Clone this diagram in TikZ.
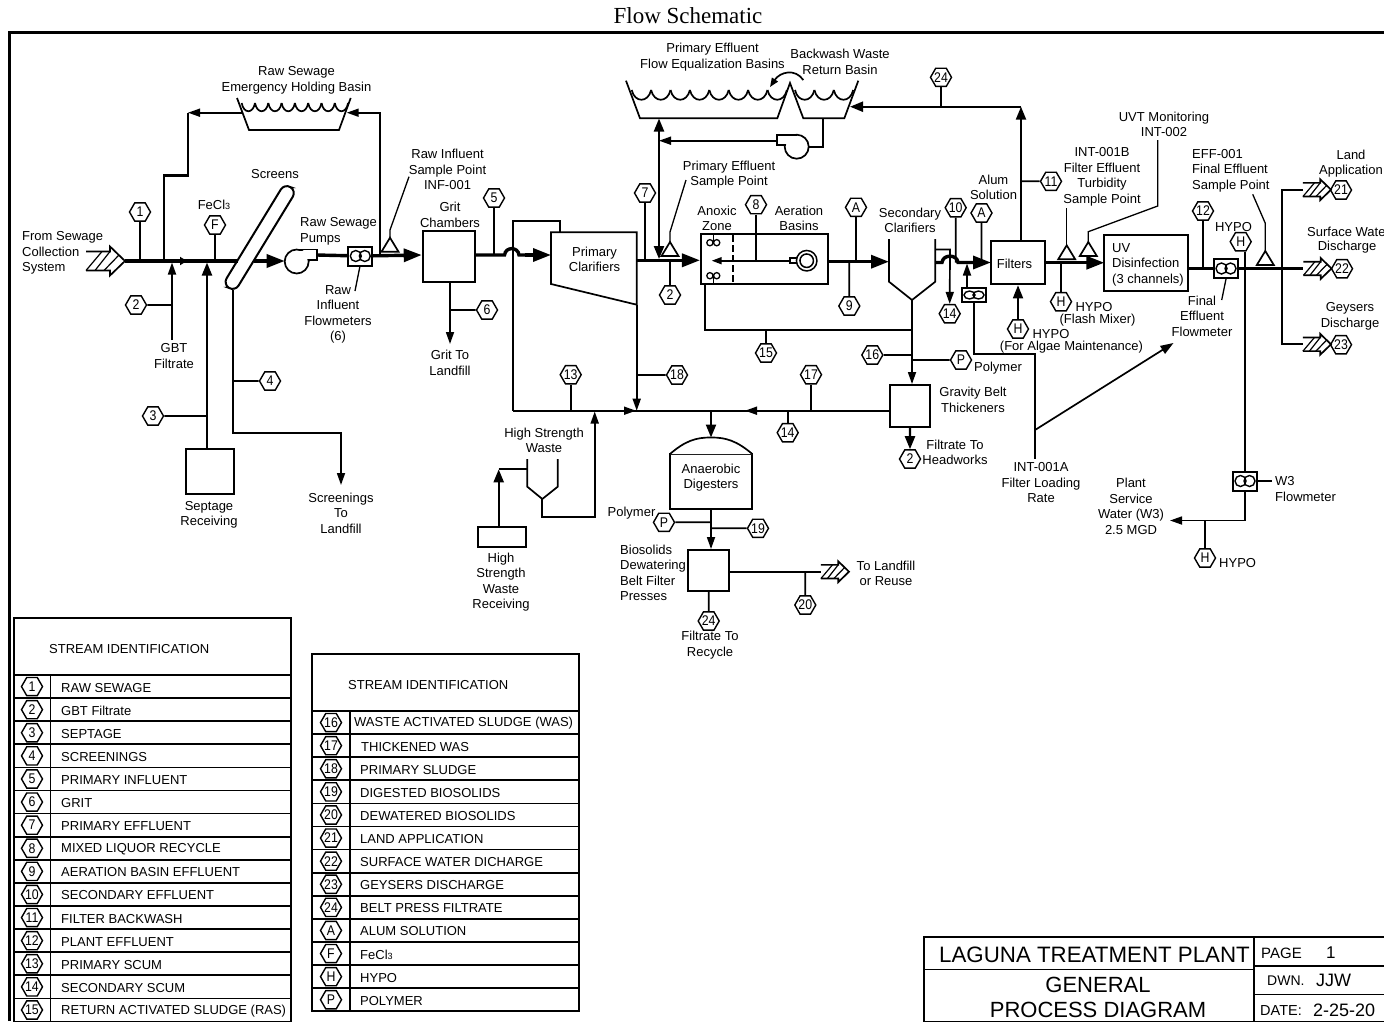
\documentclass[tikz,border=0pt]{standalone}
\usepackage{fontspec}
\setmainfont{Liberation Sans}
\newfontfamily\titlefont{Liberation Serif}
\newfontfamily\hexfont[FakeStretch=0.88]{Liberation Sans}
\usetikzlibrary{positioning,shapes,calc}
\usetikzlibrary{arrows.meta}
\newcommand{\fecl}{FeCl{\fontsize{9}{9}\selectfont 3}}

\begin{document}
\begin{tikzpicture}[x=1pt,y=-1pt]
	\tikzset{
		pipe/.style={line width=1.7pt},
		medpipe/.style={line width=2.2pt},
		mainpipe/.style={line width=3.4pt},
		pipearrow/.style={pipe,-{Triangle[length=12pt,width=8pt]}},
		medarrow/.style={medpipe,-{Triangle[length=13pt,width=10pt]}},
		bigarrow/.style={mainpipe,-{Triangle[length=18pt,width=13pt]}},
		hexmark/.style={draw,line width=1.4pt,fill=white,regular polygon,regular polygon sides=6,minimum size=21pt,inner sep=-2.5pt,font=\hexfont\fontsize{14}{14}\selectfont},
		lbl/.style={align=center,inner sep=0pt,yshift=-1pt,font=\fontsize{13}{15.5}\selectfont},
		lblw/.style={lbl,align=left,anchor=west},
		boxunit/.style={draw,line width=2pt,fill=white,inner sep=0pt},
		leader/.style={line width=1.3pt},
		outfall/.pic={
			\draw[pipe] (-39,-9.5) -- (-15,-9.5) -- (-15,-14.5) -- (0,0) -- (-15,14.5) -- (-15,9.5) -- (-39,9.5);
			\draw[line width=1.2pt] (-39,9.5) -- (-23,-9.5) (-30,9.5) -- (-15,-9.5) (-21,9.5) -- (-6,-6);
		},
		pumpshape/.pic={
			\draw[pipe,fill=white] (0,0) circle[radius=12];
			\fill[white] (0.5,-11) rectangle (19,-2.5);
			\draw[pipe] (0,-12) -- (20,-12) -- (20,-1.5) -- (11.9,-1.5);
		},
		meter/.pic={
			\draw[boxunit] (-12,-9.5) rectangle (12,9.5);
			\draw[line width=1.4pt] (-4.5,0) circle[radius=5.5] (4.5,0) circle[radius=5.5];
		},
		mixer/.pic={
			\draw[line width=1.3pt] (-3.4,0) circle[radius=3.1] (3.4,0) circle[radius=3.1];
			\draw[line width=1.3pt] (0,-8) -- (0,0);
		},
		sampler/.pic={
			\draw[pipe,fill=white] (-8.5,0) -- (8.5,0) -- (0,-14) -- cycle;
		},
	}
	\useasboundingbox (0,0) rectangle (1384,1021);

	\node[inner sep=0pt,font=\titlefont\fontsize{23}{23}\selectfont] (title) at (688,16) {Flow Schematic};
	\coordinate (frametl) at (9.5,32.5);
	\draw[line width=2.2pt] (9.5,1021) -- (frametl) -- (1384,32.5);

	\coordinate (inlet) at (125,261);
	\coordinate (midtip) at (187,261);
	\coordinate (scrin) at (237.5,261);
	\coordinate (scrout) at (254,261);
	\coordinate (pumpa) at (296.7,261.5);
	\coordinate (pumpain) at (284.7,261);
	\node[boxunit,rounded corners=7pt,minimum width=118pt,minimum height=14pt,rotate=58.6] (screens) at (259.7,237.5) {};
	\coordinate (scrfoot) at (232.7,290);

	\node[boxunit,minimum width=52pt,minimum height=51.6pt] (gritbox) at (448.7,256.5) {};
	\node[boxunit,minimum width=48pt,minimum height=45pt] (septage) at (210,471.5) {};
	\node[boxunit,minimum width=47.7pt,minimum height=20pt] (hsbox) at (502.2,536.7) {};
	\node[boxunit,minimum width=126.7pt,minimum height=49.7pt] (aeration) at (764.3,259.2) {};
	\node[boxunit,minimum width=54pt,minimum height=43.6pt] (filters) at (1018,262.5) {};
	\node[boxunit,minimum width=83.4pt,minimum height=55.7pt] (uvbox) at (1146,262.8) {};
	\node[boxunit,minimum width=40.3pt,minimum height=41.7pt] (gbt) at (910.2,405.9) {};
	\node[boxunit,minimum width=41.6pt,minimum height=40.7pt] (press) at (708.5,570.4) {};
	\node[boxunit,minimum width=82.3pt,minimum height=55pt] (digester) at (711.2,481.5) {};

	\node[hexmark] (h1) at (140,212) {1};
	\node[hexmark] (h2a) at (136,305) {2};
	\node[hexmark] (h3) at (153,416) {3};
	\node[hexmark] (h4) at (270,381) {4};
	\node[hexmark] (hF) at (215,225) {F};
	\node[hexmark] (h5) at (494,198) {5};
	\node[hexmark] (h6) at (487,310) {6};
	\node[hexmark] (h7) at (645,193) {7};
	\node[hexmark] (h2b) at (670,295) {2};
	\node[hexmark] (h8) at (756,204.7) {8};
	\node[hexmark] (hAa) at (856,207.3) {A};
	\node[hexmark] (h9) at (849.3,306) {9};
	\node[hexmark] (h10) at (955.7,207.7) {10};
	\node[hexmark] (hAb) at (981.5,213) {A};
	\node[hexmark] (h14a) at (949.7,313.7) {14};
	\node[hexmark] (h11) at (1051,181.3) {11};
	\node[hexmark] (h24a) at (941,77.3) {24};
	\node[hexmark] (hHa) at (1018,329) {H};
	\node[hexmark] (hHb) at (1061,301.7) {H};
	\node[hexmark] (h12) at (1203,211) {12};
	\node[hexmark] (hHc) at (1240.7,241.7) {H};
	\node[hexmark] (hHd) at (1205,558) {H};
	\node[hexmark] (h21) at (1341,190) {21};
	\node[hexmark] (h22) at (1342,268.7) {22};
	\node[hexmark] (h23) at (1341,344.7) {23};
	\node[hexmark] (h13) at (570.7,374.7) {13};
	\node[hexmark] (h18) at (677,375) {18};
	\node[hexmark] (h15) at (766,353) {15};
	\node[hexmark] (h16) at (872.3,355) {16};
	\node[hexmark] (hPa) at (961,360) {P};
	\node[hexmark] (h17) at (811,374.7) {17};
	\node[hexmark] (h14b) at (787.7,432.7) {14};
	\node[hexmark] (h2c) at (910,459) {2};
	\node[hexmark] (hPb) at (664,522.3) {P};
	\node[hexmark] (h19) at (758,528.3) {19};
	\node[hexmark] (h24b) at (708.7,621) {24};
	\node[hexmark] (h20) at (805.3,605) {20};

	\draw[mainpipe] (inlet) -- (scrin);
	\draw[mainpipe,-{Triangle[length=7pt,width=8pt]}] (inlet) -- (midtip);
	\draw[bigarrow] (scrout) -- (pumpain);
	\pic at (inlet) {outfall};
	\pic at (pumpa) {pumpshape};

	\coordinate (holdl) at (243,112.7);
	\coordinate (holdlturn) at (188,112.7);
	\coordinate (holdr) at (346.7,112.7);
	\coordinate (rawbranch) at (380,255);
	\draw[pipearrow] (rawbranch) -- (rawbranch |- holdr) -- (holdr);
	\draw[pipearrow] (holdl) -- (holdlturn);
	\draw[medpipe] (holdlturn) -- (188,175.5) -- (164,175.5) -- (164,261);
	\draw[pipe] (237,98) -- (249,130) -- (339,130) -- (350.7,98);
	\foreach \xs/\ws/\ns/\ys/\ds in {241.7/13.3/8/103/11, 631.7/19.4/8/90/13, 795/19.4/3/90/13}
		\foreach \k in {1,...,\ns}
			\draw[pipe] ({\xs+\ws*(\k-1)},\ys) .. controls ({\xs+\ws*(\k-1)+.15*\ws},{\ys+\ds}) and ({\xs+\ws*\k-.15*\ws},{\ys+\ds}) .. ({\xs+\ws*\k},\ys);

	\draw[pipe] (h1) -- (h1 |- inlet);
	\draw[pipe] (hF) -- (hF |- inlet);
	\coordinate (gbtin) at (172,262.5);
	\coordinate (gbtfoot) at (172,340);
	\draw[pipearrow] (gbtfoot) -- (gbtin);
	\draw[pipe] (h2a) -- (h2a -| gbtin);
	\coordinate (septin) at (207,262.5);
	\draw[medarrow] (septin |- septage.north) -- (septin);
	\draw[pipe] (h3) -- (h3 -| septin);
	\coordinate (scrturn) at (232.7,433);
	\coordinate (scrlandfill) at (341,485);
	\draw[pipearrow] (scrfoot) -- (scrturn) -- (scrturn -| scrlandfill) -- (scrlandfill);
	\draw[pipe] (h4) -- (h4 -| scrturn);

	\coordinate (pumpaout) at (316.7,255);
	\coordinate (meterraw) at (360.3,256);
	\coordinate (sampleraw) at (390,251.7);
	\draw[mainpipe] (pumpaout) -- (meterraw);
	\draw[bigarrow] (meterraw) -- (gritbox.west |- pumpaout);
	\pic at (meterraw) {meter};
	\pic at (sampleraw) {sampler};
	\coordinate (sampleraw2) at (409,176.7);
	\draw[leader] (390,238) -- (390,230) -- (sampleraw2);
	\coordinate (meterrawstem) at (355,291);
	\draw[leader] (360,266) -- (meterrawstem);

	\coordinate (gritdown) at (450,344);
	\draw[pipearrow] (gritdown |- gritbox.south) -- (gritdown);
	\draw[pipe] (h6) -- (h6 -| gritdown);

	\coordinate (pclin) at (551,255);
	\draw[mainpipe] (gritbox.east |- pclin) -- (504.5,255) .. controls (505.5,246.5) and (518,246.5) .. (519,255) -- (530,255);
	\draw[bigarrow] (525,255) -- (pclin);
	\draw[pipe] (h5) -- (h5 |- pclin);
	\coordinate (busl) at (512.7,410.7);
	\draw[pipe] (busl) -- (512.7,220.7) -- (559.7,220.7) -- (559.7,232.3);
	\node[draw=none,inner sep=0pt] (pcorner) at (636.7,304.7) {};
	\draw[pipe,fill=white] (551,232.3) -- (636.7,232.3) -- (pcorner.center) -- (551,284) -- cycle;
	\coordinate (sludge) at (636.7,410.7);
	\draw[pipearrow] (pcorner.center) -- (sludge);
	\draw[pipe] (h18) -- (h18 -| sludge);
	\coordinate (gbtbus) at (889,410.7);
	\coordinate (busmid) at (636,410.7);
	\draw[pipe] (busl) -- (gbtbus);
	\draw[pipearrow] (busl) -- (busmid);
	\coordinate (busarrow) at (745,410.7);
	\draw[pipearrow] (gbtbus) -- (busarrow);
	\draw[pipe] (h13) -- (h13 |- busl);
	\draw[pipe] (h17) -- (h17 |- busl);
	\draw[pipe] (h14b) -- (h14b |- busl);

	\coordinate (pout) at (636.7,260.3);
	\draw[mainpipe] (pout) -- (690,260.3);
	\draw[bigarrow] (680,260.3) -- (aeration.west |- pout);
	\draw[pipe] (h7) -- (h7 |- pout);
	\draw[pipe] (h2b) -- (h2b |- pout);
	\coordinate (eqfoot) at (659,118.5);
	\coordinate (eqjoin) at (659,259);
	\draw[medpipe,{Triangle[length=13pt,width=10pt]}-{Triangle[length=13pt,width=10pt]}] (eqfoot) -- (eqjoin);
	\coordinate (samplepe) at (670,256);
	\pic at (samplepe) {sampler};
	\coordinate (samplepe2) at (686,180);
	\draw[leader] (670,242) -- (670,232) -- (samplepe2);

	\draw[pipe] (626,80.7) -- (640,118.3) -- (777.3,118.3) -- (790,83) -- (803.3,118.3) -- (844.3,118.3) -- (858.3,80.7);
	\coordinate (curvea) at (803.3,80);
	\coordinate (curveb) at (770,87);
	\draw[pipe,-{Triangle[length=9pt,width=7pt]}] (curvea) .. controls (795,68) and (780,72) .. (curveb);
	\coordinate (pumpb) at (796.7,146.7);
	\coordinate (retfoot) at (823.3,118.3);
	\draw[pipe] (retfoot) -- (823.3,146.7) -- (pumpb);
	\pic[xscale=-1] at (pumpb) {pumpshape};
	\coordinate (pumpbout) at (776.7,140.7);
	\draw[pipearrow] (pumpbout) -- (pumpbout -| eqfoot);

	\coordinate (eqturn) at (1021,106.7);
	\coordinate (eqin) at (850,106.7);
	\coordinate (filtup) at (1021,240.7);
	\draw[medarrow] (eqturn) -- (eqin);
	\draw[medarrow] (filtup) -- (eqturn);
	\draw[pipe] (h24a) -- (h24a |- eqin);
	\draw[pipe] (h11) -- (h11 -| filtup);

	\coordinate (anoxtip) at (711.7,260.7);
	\coordinate (aerator) at (806.7,260.7);
	\draw[pipe,-{Triangle[length=10pt,width=7pt]}] (790,260.7) -- (anoxtip);
	\draw[pipe] (h8) -- (h8 |- aerator);
	\draw[pipe,dashed,dash pattern=on 7pt off 3pt] (732.7,235) -- (732.7,283);
	\node[boxunit,line width=1.5pt,minimum width=8pt,minimum height=5pt] (aerstub) at (794,260.7) {};
	\node[boxunit,line width=1.5pt,circle,minimum size=20.5pt] (aerouter) at (aerator) {};
	\node[boxunit,line width=1.5pt,circle,minimum size=13.5pt] (aerinner) at (aerator) {};
	\pic at (713.3,242.7) {mixer};
	\pic[yscale=-1] at (713.3,275.7) {mixer};

	\coordinate (clin) at (889,261.7);
	\draw[mainpipe] (aeration.east |- clin) -- (870,261.7);
	\draw[bigarrow] (860,261.7) -- (clin);
	\draw[pipe] (hAa) -- (hAa |- clin);
	\draw[pipe] (h9) -- (h9 |- clin);
	\coordinate (clout) at (912,300);
	\draw[pipe] (889,239) -- (889,281.7) -- (clout) -- (935.3,281.7) -- (935.3,239);
	\draw[pipearrow] (clout) -- (clout |- gbt.north);
	\coordinate (rasturn) at (705.3,330.3);
	\draw[pipe] (clout |- rasturn) -- (rasturn) -- (rasturn |- aeration.south);
	\draw[pipe] (h15) -- (h15 |- rasturn);
	\draw[pipe] (h16) -- (h16 -| clout);
	\draw[pipe] (hPa) -- (hPa -| clout);

	\coordinate (filtin) at (991,262.5);
	\draw[mainpipe] (935.3,262.5) -- (942,262.5) .. controls (943,254) and (957,254) .. (958,262.5) -- (975,262.5);
	\draw[bigarrow] (968,262.5) -- (filtin);
	\draw[pipe,-{Triangle[length=12pt,width=8pt]}] (935.3,249.5) -- (950,249.5) -- (h14a.north);
	\draw[pipe] (h10) -- (h10 |- filtin);
	\draw[pipe] (hAb) -- (hAb |- filtin);
	\coordinate (meterfilt) at (974,295);
	\draw[pipearrow] (967,288.5) -- (967,263.5);
	\pic[yscale=.72] at (meterfilt) {meter};
	\coordinate (loadturn) at (1035,354.3);
	\coordinate (loadfoot) at (1035,459);
	\draw[pipe] (974,301.7) -- (974,354.3) -- (loadturn) -- (loadfoot);
	\coordinate (loadsplit) at (1035,430);
	\coordinate (loadtip) at (1173.5,343);
	\draw[pipe,-{Triangle[length=13pt,width=9pt]}] (loadsplit) -- (loadtip);
	\draw[pipe,-{Triangle[length=13pt,width=10pt]}] (hHa) -- (hHa |- filters.south);

	\coordinate (uvin) at (1104.3,262.7);
	\draw[mainpipe] (filters.east |- uvin) -- (1090,262.7);
	\draw[bigarrow] (1085,262.7) -- (uvin);
	\draw[pipe] (hHb) -- (hHb |- uvin);
	\pic at (1066.7,259.3) {sampler};
	\coordinate (samplei1) at (1066.7,208.3);
	\draw[leader] (1066.7,246) -- (samplei1);
	\pic at (1088.3,256) {sampler};
	\coordinate (samplei2) at (1157.7,140);
	\draw[leader] (1088.3,242.5) -- (1088.3,231.7) -- (1157.7,206) -- (samplei2);

	\coordinate (metereff) at (1226,268.5);
	\coordinate (effend) at (1303.3,268.5);
	\draw[mainpipe] (uvbox.east |- metereff) -- (effend);
	\draw[pipe] (h12) -- (h12 |- metereff);
	\coordinate (w3meter) at (1245,481);
	\coordinate (w3turn) at (1245,520.5);
	\coordinate (w3tip) at (1170,520.5);
	\coordinate (w3lead) at (1272,481);
	\draw[pipearrow] (hHc.south -| w3meter) -- (w3turn) -- (w3tip);
	\draw[pipe] (hHd) -- (hHd |- w3turn);
	\draw[pipe] (w3meter) -- (w3lead);
	\pic at (metereff) {meter};
	\pic at (w3meter) {meter};
	\pic at (1265.3,265) {sampler};
	\coordinate (samplef) at (1252.7,194.3);
	\draw[leader] (1265.3,251) -- (1265.3,223.3) -- (samplef);
	\coordinate (efftopstem) at (1221.7,300);
	\draw[leader] (1226,279) -- (efftopstem);
	\coordinate (landout) at (1303,189.7);
	\coordinate (geyout) at (1303,344.3);
	\draw[pipe] (landout) -- (1282.3,189.7) -- (1282.3,344.3) -- (geyout);
	\pic[scale=.72] at (1331,189.7) {outfall};
	\pic[scale=.72] at (1331.5,268.5) {outfall};
	\pic[scale=.72] at (1331,344.3) {outfall};

	\coordinate (hsout) at (594.7,517);
	\coordinate (hsin) at (594.7,411.5);
	\draw[pipearrow] (542.3,499) -- (542.3,517) -- (hsout) -- (hsin);
	\draw[pipe] (527.3,459) -- (527.3,486.7) -- (542.3,499) -- (557.7,486.7) -- (557.7,459);
	\coordinate (hsfeed) at (498.7,469.3);
	\draw[medarrow] (hsfeed |- hsbox.north) -- (hsfeed);
	\draw[medpipe] (hsfeed) -- (527.3,469.3);

	\coordinate (digtop) at (711,437.5);
	\draw[medarrow] (711,410.7) -- (digtop);
	\draw[pipe,fill=white] (670,454) .. controls (685,441) and (696,437.3) .. (digtop) .. controls (726,437.3) and (737,441) .. (752.3,454);
	\draw[pipearrow] (digester.south -| digtop) -- (press.north -| digtop);
	\draw[pipe] (hPb) -- (hPb -| digtop);
	\draw[pipe] (h19) -- (h19 -| digtop);
	\draw[pipe] (h24b) -- (h24b |- press.south);
	\coordinate (landfillin) at (821,571.7);
	\draw[pipe] (press.east |- landfillin) -- (landfillin);
	\pic[scale=.72] at (849,571.7) {outfall};
	\draw[pipe] (h20) -- (h20 |- landfillin);
	\draw[medarrow] (gbt.south -| h2c) -- (h2c.north);

	\node[lbl] (lholding) at (296.5,79.5) {Raw Sewage\\Emergency Holding Basin};
	\node[lblw] (lsewer) at (22,252) {From Sewage\\Collection\\System};
	\node[lbl] (lfecl) at (214,204) {\fecl};
	\node[lbl] (lscreens) at (275,173.5) {Screens};
	\node[lblw] (lpumps) at (300,230.5) {Raw Sewage\\Pumps};
	\node[lbl] (lrawflow) at (338,313.5) {Raw\\Influent\\Flowmeters\\(6)};
	\node[lbl] (lrawsample) at (447.5,168.5) {Raw Influent\\Sample Point\\INF-001};
	\node[lbl] (lgrit) at (450,214) {Grit\\Chambers};
	\node[lbl] (lgbt) at (174,355) {GBT\\Filtrate};
	\node[lbl] (lseptage) at (209,514) {Septage\\Receiving};
	\node[lbl] (lscreenings) at (341,512) {Screenings\\To\\Landfill};
	\node[lbl] (lgritland) at (450,362) {Grit To\\Landfill};
	\node[lbl] (lequal) at (712.5,56) {Primary Effluent\\Flow Equalization Basins};
	\node[lbl] (lbackwash) at (840,61) {Backwash Waste\\Return Basin};
	\node[lbl] (lpesample) at (729,173.5) {Primary Effluent\\Sample Point};
	\node[lbl] (lprimary) at (594.5,258.5) {Primary\\Clarifiers};
	\node[lbl] (lanoxic) at (717,217.5) {Anoxic\\Zone};
	\node[lbl] (laeration) at (799,217.5) {Aeration\\Basins};
	\node[lbl] (lsecondary) at (910,219.5) {Secondary\\Clarifiers};
	\node[lbl] (lalum) at (993.5,186.5) {Alum\\Solution};
	\node[lbl] (lfilters) at (1014.5,262.5) {Filters};
	\node[lbl] (lturb) at (1102,176) {INT-001B\\Filter Effluent\\Turbidity\\Sample Point};
	\node[lbl] (luvt) at (1164,123.5) {UVT Monitoring\\INT-002};
	\node[lblw] (luv) at (1112,263.5) {UV\\Disinfection\\(3 channels)};
	\node[lblw] (lfinalsample) at (1192,169.5) {EFF-001\\Final Effluent\\Sample Point};
	\node[lbl] (lhypoc) at (1233.5,226.5) {HYPO};
	\node[lbl] (lland) at (1351,162.5) {Land\\Application};
	\node[lblw] (lsurface) at (1307,230.5) {Surface Wate};
	\node[lbl] (ldischarge) at (1347,246) {Discharge};
	\node[lbl] (lgeysers) at (1350,315.5) {Geysers\\Discharge};
	\node[lbl] (lfinalflow) at (1202,315) {Final\\Effluent\\Flowmeter};
	\node[lbl] (lhypob) at (1094,306) {HYPO};
	\node[lbl] (lflash) at (1097.5,319) {(Flash Mixer)};
	\node[lbl] (lhypoa) at (1051,333) {HYPO};
	\node[lbl] (lalgae) at (1071.5,346) {(For Algae Maintenance)};
	\node[lblw] (lpolymera) at (974,367.5) {Polymer};
	\node[lbl] (lthick) at (973,399) {Gravity Belt\\Thickeners};
	\node[lbl] (lheadworks) at (955,451.5) {Filtrate To\\Headworks};
	\node[lbl] (lload) at (1041,482) {INT-001A\\Filter Loading\\Rate};
	\node[lbl] (lservice) at (1131,505.5) {Plant\\Service\\Water (W3)\\2.5 MGD};
	\node[lblw] (lw3) at (1275,488) {W3\\Flowmeter};
	\node[lblw] (lhypod) at (1219,562) {HYPO};
	\node[lbl] (lhswaste) at (544,439.5) {High Strength\\Waste};
	\node[lbl] (lhsrec) at (501,581) {High\\Strength\\Waste\\Receiving};
	\node[lbl] (ldigest) at (711,476.5) {Anaerobic\\Digesters};
	\node[lblw] (lpolymerb) at (607.5,512) {Polymer};
	\node[lblw] (lbelt) at (620,572) {Biosolids\\Dewatering\\Belt Filter\\Presses};
	\node[lbl] (lrecycle) at (710,644) {Filtrate To\\Recycle};
	\node[lbl] (lreuse) at (886,572.5) {To Landfill\\or Reuse};

	\draw[boxunit] (14,618) rectangle (291,1022);
	\draw[boxunit] (312,654) rectangle (579,1011.3);
	\draw[pipe] (50.5,675) -- (50.5,1022);
	\draw[pipe] (350,711) -- (350,1011.3);
	\draw[pipe] (14,675) -- (291,675);
	\draw[pipe] (312,711) -- (579,711);
	\node[lblw] (tabhead) at (49,648.5) {STREAM IDENTIFICATION};
	\node[lblw] (tabheadb) at (348,684.5) {STREAM IDENTIFICATION};
	\foreach \num/\txt [count=\r] in {1/RAW SEWAGE,2/GBT Filtrate,3/SEPTAGE,4/SCREENINGS,5/PRIMARY INFLUENT,6/GRIT,7/PRIMARY EFFLUENT,8/MIXED LIQUOR RECYCLE,9/AERATION BASIN EFFLUENT,10/SECONDARY EFFLUENT,11/FILTER BACKWASH,12/PLANT EFFLUENT,13/PRIMARY SCUM,14/SECONDARY SCUM,15/RETURN ACTIVATED SLUDGE (RAS)} {
		\draw[pipe] (14,{675+23.1*\r}) -- (291,{675+23.1*\r});
		\node[hexmark] (tabh\r) at (32,{675+23.1*(\r-.5)}) {\num};
		\node[lblw] (tabt\r) at (61,{675+23.1*(\r-.5)}) {\txt};
	}
	\foreach \num/\tx/\txt [count=\r] in {16/354/WASTE ACTIVATED SLUDGE (WAS),17/361/THICKENED WAS,18/360/PRIMARY SLUDGE,19/360/DIGESTED BIOSOLIDS,20/360/DEWATERED BIOSOLIDS,21/360/LAND APPLICATION,22/360/SURFACE WATER DICHARGE,23/360/GEYSERS DISCHARGE,24/360/BELT PRESS FILTRATE,A/360/ALUM SOLUTION,F/360/\fecl,H/360/HYPO,P/360/POLYMER} {
		\draw[pipe] (312,{711+23.1*\r}) -- (579,{711+23.1*\r});
		\node[hexmark] (tabj\r) at (331,{711+23.1*(\r-.5)}) {\num};
		\node[lblw] (tabk\r) at (\tx,{711+23.1*(\r-.5)}) {\txt};
	}

	\draw[boxunit] (924,937) rectangle (1385,1022);
	\draw[pipe] (924,969.5) -- (1254,969.5);
	\draw[pipe] (1254,937) -- (1254,1022);
	\draw[pipe] (1254,966) -- (1385,966);
	\draw[pipe] (1254,994.5) -- (1385,994.5);
	\node[inner sep=0pt,font=\fontsize{22.3}{22.3}\selectfont] (tplant) at (1094.5,954.5) {LAGUNA TREATMENT PLANT};
	\node[align=center,inner sep=0pt,font=\fontsize{22}{25}\selectfont] (tname) at (1098,997.5) {GENERAL\\PROCESS DIAGRAM};
	\node[anchor=west,inner sep=0pt,font=\fontsize{15}{15}\selectfont] (tpage) at (1261,953.5) {PAGE};
	\node[anchor=west,inner sep=0pt,font=\fontsize{17}{17}\selectfont] (tpagen) at (1326,952.5) {1};
	\node[anchor=west,inner sep=0pt,font=\fontsize{14}{14}\selectfont] (tdwn) at (1267,981) {DWN.};
	\node[anchor=west,inner sep=0pt,font=\fontsize{18}{18}\selectfont] (tjjw) at (1316,980) {JJW};
	\node[anchor=west,inner sep=0pt,font=\fontsize{14.5}{14.5}\selectfont] (tdate) at (1260,1010) {DATE:};
	\node[anchor=west,inner sep=0pt,font=\fontsize{18}{18}\selectfont] (tdaten) at (1313,1010.5) {2-25-20};
\end{tikzpicture}
\end{document}
